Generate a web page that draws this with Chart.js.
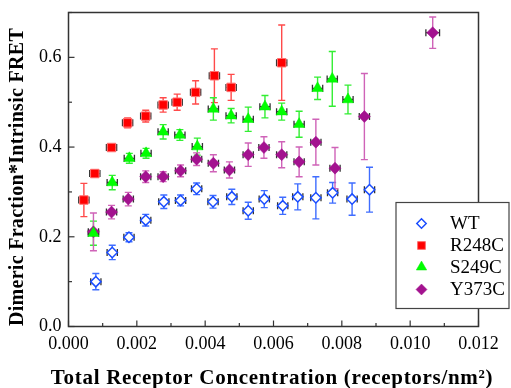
<!DOCTYPE html>
<html><head><meta charset="utf-8">
<script src="https://cdn.jsdelivr.net/npm/chart.js@4/dist/chart.umd.min.js"></script>
<style>html,body{margin:0;padding:0;background:#fff;}</style>
</head><body>
<canvas id="c" width="511" height="388"></canvas>
<script>
// ---------- data ----------
const seriesNames = ['WT', 'R248C', 'S249C', 'Y373C'];

const wtX   = [0.00080,0.00128,0.00177,0.00226,0.00279,0.00328,0.00375,0.00423,0.00478,0.00526,0.00573,0.00627,0.00671,0.00724,0.00773,0.00830,0.00881];
const wtY   = [0.100,0.165,0.199,0.237,0.278,0.281,0.307,0.278,0.289,0.258,0.284,0.269,0.289,0.287,0.298,0.284,0.305];
const wtErr = [0.018,0.016,0.010,0.013,0.015,0.012,0.013,0.014,0.017,0.019,0.019,0.019,0.029,0.047,0.023,0.036,0.050];
const wtXErr= [0.00015,0.00015,0.00015,0.00015,0.00015,0.00015,0.00015,0.00015,0.00015,0.00015,0.00015,0.00015,0.00015,0.00015,0.00015,0.00015,0.00015];

const r248X   = [0.00045,0.00077,0.00126,0.00173,0.00226,0.00277,0.00318,0.00372,0.00427,0.00476,0.00624];
const r248Y   = [0.282,0.341,0.399,0.454,0.469,0.494,0.500,0.522,0.559,0.533,0.588];
const r248Err = [0.037,0.008,0.006,0.011,0.013,0.016,0.018,0.026,0.060,0.029,0.084];
const r248XErr= [0.00015,0.00015,0.00015,0.00015,0.00015,0.00015,0.00015,0.00015,0.00015,0.00015,0.00015];

const s249X   = [0.00073,0.00128,0.00178,0.00227,0.00277,0.00326,0.00377,0.00424,0.00476,0.00526,0.00575,0.00624,0.00675,0.00729,0.00772,0.00818];
const s249Y   = [0.208,0.321,0.375,0.386,0.434,0.427,0.401,0.485,0.470,0.462,0.490,0.479,0.451,0.531,0.552,0.506];
const s249Err = [0.027,0.016,0.011,0.011,0.016,0.012,0.019,0.025,0.016,0.027,0.025,0.019,0.029,0.025,0.061,0.032];
const s249XErr= [0.00015,0.00015,0.00015,0.00015,0.00015,0.00015,0.00015,0.00015,0.00015,0.00015,0.00015,0.00015,0.00015,0.00015,0.00015,0.00015];

const y373X   = [0.00073,0.00126,0.00175,0.00226,0.00277,0.00328,0.00375,0.00424,0.00471,0.00526,0.00572,0.00624,0.00675,0.00724,0.00780,0.00866,0.01066];
const y373Y   = [0.211,0.255,0.284,0.334,0.334,0.347,0.373,0.364,0.349,0.383,0.399,0.383,0.367,0.411,0.353,0.468,0.655];
const y373Err = [0.042,0.015,0.015,0.013,0.011,0.013,0.014,0.019,0.018,0.026,0.024,0.029,0.033,0.051,0.046,0.096,0.035];
const y373XErr= [0.00015,0.00015,0.00015,0.00015,0.00015,0.00015,0.00015,0.00015,0.00015,0.00015,0.00015,0.00015,0.00015,0.00015,0.00015,0.00015,0.0002];

const xTickLabels = ['0.000','0.002','0.004','0.006','0.008','0.010','0.012'];
const yTickLabels = ['0.0','0.2','0.4','0.6'];
const xTitle = 'Total Receptor Concentration (receptors/nm\u00B2)';
const yTitle = 'Dimeric Fraction*Intrinsic FRET';

// ---------- build ----------
function pts(xs, ys, es, xes) { return xs.map((x, i) => ({x: x, y: ys[i], e: es[i], xe: xes[i]})); }
const SERIF = "'Liberation Serif', 'Times New Roman', Times, serif";

const datasets = [
  {label: seriesNames[0], data: pts(wtX, wtY, wtErr, wtXErr), pointStyle: 'rectRot', pointRadius: 5.2,
   backgroundColor: '#ffffff', borderColor: '#1a4dff', pointBorderWidth: 1.5, errColor: '#3f6dff'},
  {label: seriesNames[1], data: pts(r248X, r248Y, r248Err, r248XErr), pointStyle: 'rect', pointRadius: 6,
   backgroundColor: '#ff0000', borderColor: '#ff7070', pointBorderWidth: 1, errColor: '#ff4a4a'},
  {label: seriesNames[2], data: pts(s249X, s249Y, s249Err, s249XErr), pointStyle: 'triangle', pointRadius: 6.5,
   backgroundColor: '#00ff00', borderColor: '#00ee00', pointBorderWidth: 0.5, errColor: '#33ee33'},
  {label: seriesNames[3], data: pts(y373X, y373Y, y373Err, y373XErr), pointStyle: 'rectRot', pointRadius: 6,
   backgroundColor: '#a3128f', borderColor: '#a3128f', pointBorderWidth: 0.5, errColor: '#cf63b8'}
];

const decorPlugin = {
  id: 'decor',
  beforeDatasetsDraw(chart) {
    const ctx = chart.ctx, xs = chart.scales.x, ys = chart.scales.y;
    ctx.save();
    chart.data.datasets.forEach(ds => {
      ds.data.forEach(p => {
        const px = xs.getPixelForValue(p.x), py = ys.getPixelForValue(p.y);
        const y1 = ys.getPixelForValue(p.y - p.e), y2 = ys.getPixelForValue(p.y + p.e);
        ctx.strokeStyle = ds.errColor; ctx.lineWidth = 1.4;
        ctx.beginPath();
        ctx.moveTo(px, y1); ctx.lineTo(px, y2);
        ctx.moveTo(px - 3.5, y1); ctx.lineTo(px + 3.5, y1);
        ctx.moveTo(px - 3.5, y2); ctx.lineTo(px + 3.5, y2);
        ctx.stroke();
        const x1 = xs.getPixelForValue(p.x - p.xe), x2 = xs.getPixelForValue(p.x + p.xe);
        ctx.strokeStyle = '#333333'; ctx.lineWidth = 1.3;
        ctx.beginPath();
        ctx.moveTo(x1, py); ctx.lineTo(x2, py);
        ctx.moveTo(x1, py - 3.5); ctx.lineTo(x1, py + 3.5);
        ctx.moveTo(x2, py - 3.5); ctx.lineTo(x2, py + 3.5);
        ctx.stroke();
      });
    });
    ctx.restore();
  },
  afterDraw(chart) {
    const ctx = chart.ctx, a = chart.chartArea, xs = chart.scales.x, ys = chart.scales.y;
    ctx.save();
    // frame
    ctx.strokeStyle = '#333333'; ctx.lineWidth = 1.5;
    ctx.strokeRect(a.left, a.top, a.right - a.left, a.bottom - a.top);
    // y ticks (inside)
    ctx.lineWidth = 1.2;
    ys.ticks.forEach((t, i) => {
      const py = ys.getPixelForValue(t.value);
      const len = (i % 2 === 0) ? 6 : 3.5;
      ctx.beginPath(); ctx.moveTo(a.left, py); ctx.lineTo(a.left + len, py); ctx.stroke();
    });
    // x ticks (inside, major/minor)
    xs.ticks.forEach((t, i) => {
      const px = xs.getPixelForValue(t.value);
      const len = (i % 2 === 0) ? 6 : 3.5;
      ctx.beginPath(); ctx.moveTo(px, a.bottom); ctx.lineTo(px, a.bottom - len); ctx.stroke();
    });
    // axis titles
    ctx.fillStyle = '#000';
    ctx.font = 'bold 21px ' + SERIF;
    ctx.textAlign = 'center'; ctx.textBaseline = 'alphabetic';
    ctx.letterSpacing = '0.7px';
    ctx.fillText(xTitle, 272, 384);
    ctx.save();
    ctx.translate(23, 177);
    ctx.rotate(-Math.PI / 2);
    ctx.font = 'bold 20px ' + SERIF;
    ctx.letterSpacing = '0.3px';
    ctx.fillText(yTitle, 0, 0);
    ctx.restore();
    ctx.letterSpacing = '0px';
    // legend
    const lx = 396, ly = 202.5, lw = 113, lh = 106;
    ctx.fillStyle = '#ffffff';
    ctx.fillRect(lx, ly, lw, lh);
    ctx.strokeStyle = '#444444'; ctx.lineWidth = 1.2;
    ctx.strokeRect(lx, ly, lw, lh);
    const rows = [223.5, 245.5, 267, 289.5];
    chart.data.datasets.forEach((ds, i) => {
      const sy = rows[i];
      ctx.fillStyle = ds.backgroundColor; ctx.strokeStyle = ds.borderColor;
      ctx.lineWidth = ds.pointBorderWidth;
      Chart.helpers.drawPoint(ctx, {pointStyle: ds.pointStyle, radius: ds.pointRadius - 0.5, rotation: 0, borderWidth: ds.pointBorderWidth}, 421.5, sy);
      ctx.fillStyle = '#000';
      ctx.font = '19px ' + SERIF;
      ctx.textAlign = 'left'; ctx.textBaseline = 'middle';
      ctx.fillText(ds.label, 450, sy + 1);
    });
    ctx.restore();
  }
};

new Chart(document.getElementById('c'), {
  type: 'scatter',
  data: {datasets: datasets},
  options: {
    responsive: false,
    animation: false,
    devicePixelRatio: 1,
    layout: {padding: {top: 12.5, right: 32.5, left: 0, bottom: 0}},
    plugins: {legend: {display: false}, tooltip: {enabled: false}},
    elements: {point: {hoverRadius: 0}},
    scales: {
      x: {
        type: 'linear', min: 0, max: 0.012,
        grid: {display: false, drawTicks: false}, border: {display: false},
        afterFit(s) { s.height = 61.5; s.paddingLeft = 0; s.paddingRight = 0; },
        afterBuildTicks(s) { s.ticks = []; for (let k = 0; k <= 12; k++) s.ticks.push({value: k / 1000}); },
        ticks: {
          autoSkip: false, maxRotation: 0, padding: 7, color: '#000',
          font: {family: SERIF, size: 18},
          callback: (v, i) => (i % 2 === 0 ? xTickLabels[i / 2] : '')
        }
      },
      y: {
        type: 'linear', min: 0, max: 0.7,
        grid: {display: false, drawTicks: false}, border: {display: false},
        afterFit(s) { s.width = 68.5; s.paddingTop = 0; s.paddingBottom = 0; },
        afterBuildTicks(s) { s.ticks = []; for (let k = 0; k <= 7; k++) s.ticks.push({value: k / 10}); },
        ticks: {
          autoSkip: false, padding: 7, color: '#000',
          font: {family: SERIF, size: 18},
          callback: (v, i) => (i % 2 === 0 ? (yTickLabels[i / 2] || '') : '')
        }
      }
    }
  },
  plugins: [decorPlugin]
});
</script>
</body></html>
